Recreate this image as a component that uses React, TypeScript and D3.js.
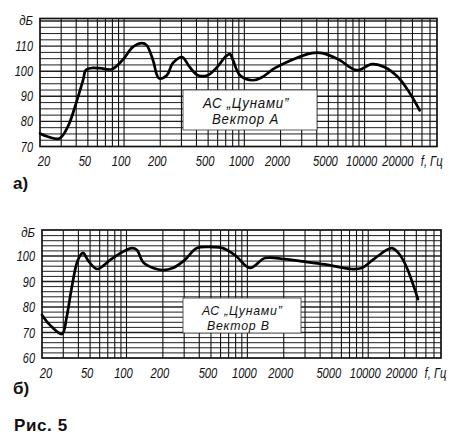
import React from "react";
import * as d3 from "d3";

// ---- data ----
const topFreq = [20, 23, 29, 34, 40.6, 45.6, 48, 52, 63, 79, 97, 118, 141, 154, 174, 195, 227, 254, 303, 352, 410, 497, 594, 690, 760, 805, 920, 1180, 1400, 1790, 2450, 3640, 4450, 6000, 8600, 11500, 14700, 19000, 23800, 28700];
const topDb = [75.2, 74.0, 73.2, 77.8, 88.4, 96.4, 100.4, 101.2, 101.2, 100.8, 104.4, 109.6, 111.2, 110.4, 104.4, 97.2, 98.4, 103.2, 105.6, 101.6, 98.4, 98.4, 101.6, 105.6, 106.8, 104.4, 98.4, 96.4, 97.6, 101.2, 104.4, 107.2, 107.2, 104.8, 100.4, 102.8, 101.6, 97.6, 91.2, 84.4];

const botFreq = [20, 23.3, 29.3, 32, 35.3, 39.6, 43.7, 47.9, 57, 73, 93, 111, 122, 137, 166, 200, 242, 303, 383, 517, 627, 788, 1050, 1400, 2030, 3140, 4620, 7300, 8840, 11400, 15700, 18300, 20900, 25800];
const botDb = [76.9, 72.9, 69.4, 76.1, 87.8, 98.4, 101.2, 98.4, 94.9, 98.4, 101.6, 103.1, 102.4, 97.6, 95.3, 94.5, 95.3, 98.4, 103.1, 103.5, 103.1, 100.4, 95.3, 99.2, 98.8, 97.6, 96.5, 94.9, 95.3, 99.2, 103.1, 100.4, 95.3, 83.1];

const xTicks = [20, 50, 100, 200, 500, 1000, 2000, 5000, 10000, 20000];
const topYTicks = [70, 80, 90, 100, 110];
const botYTicks = [60, 70, 80, 90, 100];
const freqDomain = [20, 40000];
const topDbDomain = [70, 121];
const botDbDomain = [60, 110.2];

const labelFont = "'Liberation Sans', Arial, sans-serif";

function NText(props: { x: number; y: number; anchor?: string; size: number; sx: number; children: React.ReactNode; spacing?: number }) {
  return (
    <text
      transform={`translate(${props.x},${props.y}) scale(${props.sx},1)`}
      textAnchor={props.anchor || "start"}
      fontFamily={labelFont}
      fontStyle="italic"
      fontSize={props.size}
      letterSpacing={props.spacing || 0}
      fill="#111"
    >
      {props.children}
    </text>
  );
}

type ChartProps = {
  freq: number[];
  db: number[];
  yTicks: number[];
  yDomain: number[];
  step: number;
  x0: number; x1: number; y0: number; y1: number;
  box: { x: number; y: number; w: number; h: number };
  line1: string; line2: string;
  line1Pos: [number, number]; line2Pos: [number, number];
  boxFont: number;
  xLabelY: number;
  dbLabelY: number;
  letter: string; letterY: number;
};

function gridFreqs(): number[] {
  const out: number[] = [];
  for (let dec = 10; dec <= 10000; dec *= 10) {
    for (let m = 1; m <= 9; m++) {
      const f = dec * m;
      if (f > freqDomain[0] && f < freqDomain[1]) out.push(f);
    }
  }
  out.push(15000, 25000, 35000);
  return out;
}

function Chart(p: ChartProps) {
  const x = d3.scaleLog().domain(freqDomain).range([p.x0, p.x1]);
  const y = d3.scaleLinear().domain(p.yDomain).range([p.y1, p.y0]);
  const hLines = d3.range(p.yDomain[0] + p.step, p.yDomain[1] - 0.3, p.step);
  const pts: [number, number][] = p.freq.map((f, i) => [x(f), y(p.db[i])]);
  const line = d3.line().curve(d3.curveCatmullRom.alpha(0.5))(pts) || "";
  return (
    <g>
      {hLines.map((v, i) => (
        <line key={"h" + i} x1={p.x0} x2={p.x1} y1={y(v)} y2={y(v)} stroke="#1f1f1f" strokeWidth={Math.abs(v % 10) < 0.01 ? 1.4 : 1} />
      ))}
      {gridFreqs().map((f, i) => (
        <line key={"v" + i} x1={x(f)} x2={x(f)} y1={p.y0} y2={p.y1} stroke="#111" strokeWidth={1.1} />
      ))}
      <rect x={p.box.x} y={p.box.y} width={p.box.w} height={p.box.h} fill="#fff" stroke="#333" strokeWidth={0.8} />
      <rect x={p.x0} y={p.y0} width={p.x1 - p.x0} height={p.y1 - p.y0} fill="none" stroke="#111" strokeWidth={1.7} />
      <path d={line} fill="none" stroke="#000" strokeWidth={2.7} strokeLinejoin="round" strokeLinecap="round" />
      <NText x={p.line1Pos[0]} y={p.line1Pos[1]} size={p.boxFont} sx={0.95} spacing={0.8}>{p.line1}</NText>
      <NText x={p.line2Pos[0]} y={p.line2Pos[1]} size={p.boxFont} sx={0.95} spacing={0.8}>{p.line2}</NText>
      {p.yTicks.map((t) => (
        <NText key={"y" + t} x={p.x0 - 7} y={y(t) + 5} anchor="end" size={14} sx={0.78}>{t}</NText>
      ))}
      <NText x={p.x0 - 7} y={p.dbLabelY} anchor="end" size={13.5} sx={0.85}>дБ</NText>
      {xTicks.map((t) => (
        <NText key={"x" + t} x={x(t) + (t === 20 ? 4 : -3)} y={p.xLabelY} anchor="middle" size={14} sx={0.8}>{t}</NText>
      ))}
      <NText x={x(20000) + 20} y={p.xLabelY} size={14} sx={0.8}>f, Гц</NText>
      <text x={13} y={p.letterY} fontFamily="'Liberation Sans', Arial, sans-serif" fontWeight="bold" fontSize={17} fill="#111">{p.letter}</text>
    </g>
  );
}

export default function App() {
  return (
    <svg width={450} height={436} viewBox="0 0 450 436" style={{ position: "absolute", left: 0, top: 0, background: "#fff" }}>
      <rect width={450} height={436} fill="#fff" />
      <Chart
        freq={topFreq} db={topDb} yTicks={topYTicks} yDomain={topDbDomain} step={2.5}
        x0={40} x1={437} y0={18.5} y1={146.5}
        box={{ x: 183, y: 90, w: 134, h: 40 }}
        line1={"АС „Цунами\u201D"} line2={"Вектор А"}
        line1Pos={[203, 108]} line2Pos={[212, 124]} boxFont={14}
        xLabelY={166} dbLabelY={25}
        letter="а)" letterY={189}
      />
      <Chart
        freq={botFreq} db={botDb} yTicks={botYTicks} yDomain={botDbDomain} step={2}
        x0={42} x1={441} y0={230} y1={358}
        box={{ x: 183, y: 298, w: 118, h: 35 }}
        line1={"АС „Цунами\u201D"} line2={"Вектор В"}
        line1Pos={[202, 315]} line2Pos={[207, 330]} boxFont={13}
        xLabelY={378} dbLabelY={237}
        letter="б)" letterY={394}
      />
      <text x={14} y={431} fontFamily="'Liberation Sans', Arial, sans-serif" fontWeight="bold" fontSize={17} letterSpacing={0.6} fill="#111">Рис. 5</text>
    </svg>
  );
}
